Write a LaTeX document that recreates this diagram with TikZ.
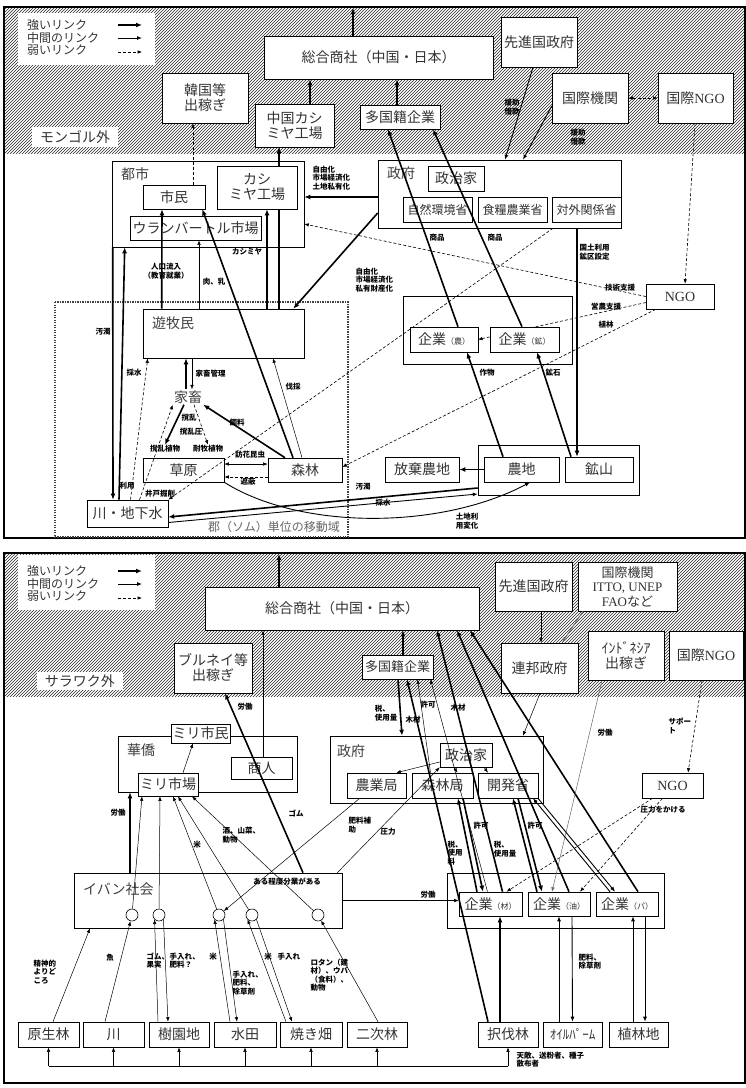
\documentclass[tikz,border=0pt]{standalone}
\usepackage{fontspec}
\setmainfont{Noto Sans CJK JP}
\newfontfamily\lat{Liberation Serif}
\usetikzlibrary{arrows.meta,patterns}

\newcommand{\kakko}[1]{{\fontsize{8}{8}\selectfont #1}}

\tikzset{
  box/.style 2 args={draw, line width=0.6pt, fill=white, inner sep=0pt,
    minimum width=#1pt, minimum height=#2pt, align=center, text=black!80,
    font=\fontsize{14}{15}\selectfont},
  outer/.style 2 args={draw, line width=0.6pt, fill=white, inner sep=0pt,
    minimum width=#1pt, minimum height=#2pt},
  head/.style={anchor=west, inner sep=0pt, text=black!75, font=\fontsize{14}{15}\selectfont},
  lbl/.style={inner sep=0.5pt, align=center, font=\fontsize{7.5}{8.5}\selectfont\bfseries},
  legtext/.style={anchor=west, inner sep=0pt, font=\fontsize{12}{12}\selectfont, text=black!80},
  circ/.style={draw, line width=0.6pt, fill=white, circle, minimum size=12pt, inner sep=0pt},
  stronglink/.style={line width=1.6pt, -{Latex[length=6pt,width=5pt]}},
  midlink/.style={line width=0.9pt, -{Latex[length=5pt,width=4pt]}},
  thinlink/.style={line width=0.5pt, -{Latex[length=4.5pt,width=3.5pt]}},
  weaklink/.style={line width=0.6pt, dash pattern=on 3pt off 2pt, -{Latex[length=4.5pt,width=3.5pt]}},
  hatch/.style={pattern=north east lines, pattern color=black!85},
  somu/.style={line width=1.2pt, dash pattern=on 1.2pt off 1.3pt, black!75},
}

\begin{document}
\begin{tikzpicture}[x=1pt,y=-1pt]
\useasboundingbox (0,0) rectangle (746,1088);

% outside areas and frames
\fill[hatch] (4,7) rectangle (745,153);
\fill[hatch] (4,553) rectangle (745,696);
\draw[line width=1.2pt] (4,7) rectangle (745,538);
\draw[line width=1.2pt] (4,553) rectangle (745,1083);

% legends
\node[fill=white, minimum width=137pt, minimum height=52pt, inner sep=0pt] (leg1) at (86.5,39) {};
\node[fill=white, minimum width=137pt, minimum height=55pt, inner sep=0pt] (leg2) at (86.5,582.5) {};
\foreach \g/\b in {a/25, b/571}{
  \node[legtext] (\g-str) at (27,\b) {強いリンク};
  \node[legtext] (\g-mid) at (27,\b+12.5) {中間のリンク};
  \node[legtext] (\g-weak) at (27,\b+25) {弱いリンク};
  \coordinate (\g-s1) at (118,\b); \coordinate (\g-s2) at (142,\b);
  \coordinate (\g-m1) at (118,\b+13); \coordinate (\g-m2) at (142,\b+13);
  \coordinate (\g-w1) at (118,\b+27); \coordinate (\g-w2) at (142,\b+27);
  \draw[stronglink] (\g-s1) -- (\g-s2);
  \draw[midlink] (\g-m1) -- (\g-m2);
  \draw[weaklink] (\g-w1) -- (\g-w2);
}
\node[fill=white, inner sep=0pt, minimum width=86pt, minimum height=20pt,
  font=\fontsize{14}{15}\selectfont, text=black!80] (mongol) at (75,137) {モンゴル外};
\node[fill=white, inner sep=0pt, minimum width=86pt, minimum height=18pt,
  font=\fontsize{14}{15}\selectfont, text=black!80] (sarawak) at (80,681) {サラワク外};

% outer boxes
\node[outer={243}{68}] (seifu1) at (499.5,194) {};
\node[outer={192}{86}] (toshi) at (208,204) {};
\node[outer={169}{68}] (kigyo1) at (487.5,330) {};
\node[outer={161}{50}] (nochibox) at (558.5,470) {};
\node[outer={161}{49}] (yuboku) at (223.5,333.5) {};
\draw[somu] (55,302) rectangle (348,537);
\node[outer={213}{67}] (seifu2) at (436.5,769.5) {};
\node[outer={179}{56}] (kakyo) at (207.5,764) {};
\node[outer={268}{55}] (iban) at (208,900.5) {};
\node[outer={217}{55}] (kigyo2) at (555.5,900.5) {};

\node[head] (h-seifu1) at (387,173) {政府};
\node[head] (h-toshi) at (121,174) {都市};
\node[head] (h-yuboku) at (152,323) {遊牧民};
\node[head] (h-kakyo) at (127,750) {華僑};
\node[head] (h-seifu2) at (337,751) {政府};
\node[head] (h-iban) at (83,889) {イバン社会};
\node[inner sep=1pt, text=black!60, font=\fontsize{12}{12}\selectfont] (h-somu) at (274,527) {郡（ソム）単位の移動域};

% links that run under boxes
\coordinate (ngo1in) at (646,302.5);
\coordinate (kno-e) at (478,339.5);
\coordinate (yub-n) at (279,309);
\coordinate (chu-s) at (279,147);
\draw[weaklink] (ngo1in) -- (kno-e);
\draw[stronglink] (yub-n) -- (chu-s);

% top boxes
\node[box={229}{43}] (sogo1) at (378.5,57.5) {総合商社（中国・日本）};
\node[box={86}{50}] (kankoku) at (205,98) {韓国等\\出稼ぎ};
\node[box={79}{43}] (chugoku) at (294.5,125.5) {中国カシ\\ミヤ工場};
\node[box={80}{24}] (takoku1) at (400,117) {多国籍企業};
\node[box={76}{50}] (senshin1) at (539,42) {先進国政府};
\node[box={76}{50}] (kokusai1) at (590,98) {国際機関};
\node[box={75}{50}] (ingo1) at (695.5,98) {国際{\lat NGO}};
\node[box={56}{25}] (seijika1) at (456,178.5) {政治家};
\node[box={69}{25}, font=\fontsize{12}{13}\selectfont] (shizen) at (437.5,209.5) {自然環境省};
\node[box={69}{25}, font=\fontsize{12}{13}\selectfont] (shokuryo) at (512.5,209.5) {食糧農業省};
\node[box={69}{25}, font=\fontsize{12}{13}\selectfont] (taigai) at (586.5,209.5) {対外関係省};
\node[box={62}{24}] (shimin) at (174,197) {市民};
\node[box={80}{43}] (kashimiya) at (257,187.5) {カシ\\ミヤ工場};
\node[box={131}{24}] (ub) at (195.5,228) {ウランバートル市場};
\node[inner sep=1pt, text=black!75, font=\fontsize{14}{15}\selectfont] (kachiku) at (188,397) {家畜};
\node[lbl] (kakuran) at (165,449) {撹乱植物};
\node[lbl] (taiboku) at (208,449) {耐牧植物};
\node[box={81}{24}] (sogen) at (183.5,470) {草原};
\node[box={74}{24}] (shinrin) at (305,470) {森林};
\node[box={81}{27}] (kawa1) at (127.5,513.5) {川・地下水};
\node[box={74}{25}] (hoki) at (422,469.5) {放棄農地};
\node[box={75}{25}] (nochi) at (521.5,469.5) {農地};
\node[box={68}{25}] (kozan) at (599,469.5) {鉱山};
\node[box={68}{25}] (kno) at (444,339.5) {企業\kakko{（農）}};
\node[box={69}{25}] (kko) at (524.5,339.5) {企業\kakko{（鉱）}};
\node[box={68}{25}] (ngo1) at (680,296.5) {\lat NGO};

% top links
\coordinate (out1) at (353,8);
\draw[stronglink] ([xshift=-25.5pt]sogo1.north) -- (out1);
\draw[stronglink] ([xshift=15.5pt]chugoku.north) -- ([xshift=-68.5pt]sogo1.south);
\draw[stronglink] ([xshift=-3pt]takoku1.north) -- ([xshift=18.5pt]sogo1.south);
\draw[midlink] ([xshift=-6pt]senshin1.south) -- ([xshift=5.5pt]seifu1.north);
\draw[midlink] ([yshift=-8pt]kokusai1.west) -- ([xshift=23.5pt]seifu1.north);
\draw[weaklink, {Latex[length=4.5pt,width=3.5pt]}-{Latex[length=4.5pt,width=3.5pt]}] (kokusai1.east) -- (ingo1.west);
\draw[weaklink] ([xshift=-0.5pt]ingo1.south) -- ([xshift=5pt]ngo1.north);
\draw[stronglink] ([yshift=-3pt]seifu1.west) -- ([yshift=7pt]toshi.east);
\draw[weaklink] (ngo1.west) -- ([yshift=-20pt]toshi.east);
\draw[stronglink] ([xshift=1pt]toshi.south west) -- ([xshift=-14.5pt]kawa1.north);
\draw[stronglink] ([xshift=-8.5pt]kawa1.north) -- ([xshift=13pt]toshi.south west);
\draw[stronglink] ([xshift=19pt]yuboku.north west) -- ([xshift=-12pt]shimin.south);
\draw[thinlink] ([xshift=-24.5pt]yuboku.north) -- ([xshift=3.5pt]ub.south);
\draw[stronglink] ([xshift=43.5pt]yuboku.north) -- ([xshift=10pt]kashimiya.south);
\draw[stronglink] ([xshift=-12pt]shinrin.north) -- ([xshift=-3pt]shimin.south east);
\draw[thinlink] ([xshift=-3pt]shinrin.north) -- ([xshift=49.5pt]yuboku.south);
\draw[stronglink] ([xshift=-20pt]shinrin.north) -- (kachiku.south east);
\draw[stronglink] ([xshift=-2pt]kachiku.north) -- ([xshift=-37.5pt]yuboku.south);
\draw[thinlink] ([xshift=-31.5pt]yuboku.south) -- ([xshift=4pt]kachiku.north);
\draw[stronglink] ([xshift=-4pt]kachiku.south) -- (kakuran.north);
\draw[weaklink] ([xshift=6pt]kachiku.south) -- (taiboku.north);
\draw[weaklink] ([xshift=12pt]kawa1.north) -- (kachiku.south west);
\draw[weaklink] ([xshift=3pt]kawa1.north) -- ([xshift=5pt]yuboku.south west);
\draw[thinlink, {Latex[length=4.5pt,width=3.5pt]}-{Latex[length=4.5pt,width=3.5pt]}] ([yshift=6pt]sogen.east) -- ([yshift=6pt]shinrin.west);
\draw[weaklink] ([yshift=-7pt]shinrin.west) -- ([yshift=-7pt]sogen.east);
\draw[midlink] (sogen.south east) .. controls (300,530) and (440,530) .. ([xshift=8.5pt]nochi.south);
\draw[stronglink] ([yshift=-18pt]nochibox.west) -- ([yshift=-3.5pt]kawa1.east);
\draw[midlink] ([yshift=-9pt]kawa1.east) -- ([yshift=-24pt]nochibox.west);
\draw[stronglink] (nochi.west) -- (hoki.east);
\draw[stronglink] ([xshift=-18.5pt]nochi.north) -- ([xshift=23pt]kno.south);
\draw[stronglink] ([xshift=14pt]kno.north) -- ([xshift=-12pt]takoku1.south);
\draw[stronglink] ([xshift=-28pt]kozan.north) -- ([xshift=12.5pt]kko.south);
\draw[stronglink] ([xshift=-2.5pt]kko.north) -- ([xshift=33pt]takoku1.south);
\draw[stronglink] ([xshift=77.5pt]seifu1.south) -- ([xshift=-22pt]kozan.north);
\draw[stronglink] ([yshift=-19pt]seifu1.west) -- ([xshift=-11pt]yuboku.north east);
\draw[weaklink] ([xshift=53.5pt]seifu1.south) -- (kawa1.north east);
\draw[weaklink] ([xshift=10pt]ngo1.south west) -- ([yshift=3pt]shinrin.east);
\draw[weaklink] ([xshift=19pt]shimin.north) -- ([xshift=-12pt]kankoku.south);

% top labels
\node[lbl] (l-enjo1) at (512,107) {援助\\借款};
\node[lbl] (l-enjo2) at (578,137) {援助\\借款};
\node[lbl, anchor=west, align=left] (l-jiyu1) at (312,178) {自由化\\市場経済化\\土地私有化};
\node[lbl, anchor=west, align=left] (l-jiyu2) at (355,280) {自由化\\市場経済化\\私有財産化};
\node[lbl] (l-gijutsu) at (620,288) {技術支援};
\node[lbl] (l-einou) at (606,307) {営農支援};
\node[lbl] (l-shokurin) at (606,325) {植林};
\node[lbl] (l-odaku1) at (103,332) {汚濁};
\node[lbl] (l-saisui1) at (134,373) {採水};
\node[lbl] (l-jinko) at (166,271) {人口流入\\（教育就業）};
\node[lbl] (l-niku) at (214,282) {肉、乳};
\node[lbl] (l-kashimiya) at (247,252) {カシミヤ};
\node[lbl] (l-bassai) at (293,387) {伐採};
\node[lbl] (l-shiryo) at (237,423) {飼料};
\node[lbl, anchor=west] (l-kanri) at (195,374) {家畜管理};
\node[lbl] (l-kakuran) at (189,418) {撹乱};
\node[lbl] (l-kakuranatsu) at (191,432) {撹乱圧};
\node[lbl] (l-houka) at (250,455) {訪花昆虫};
\node[lbl] (l-shahei) at (248,482) {遮蔽};
\node[lbl] (l-riyo) at (127,486) {利用};
\node[lbl] (l-ido) at (160,494) {井戸掘削};
\node[lbl] (l-odaku2) at (363,487) {汚濁};
\node[lbl] (l-saisui2) at (383,503) {採水};
\node[lbl] (l-tochi) at (467,521) {土地利\\用変化};
\node[lbl] (l-sakumotsu) at (487,373) {作物};
\node[lbl] (l-koseki) at (553,373) {鉱石};
\node[lbl] (l-shohin1) at (437,238) {商品};
\node[lbl] (l-shohin2) at (495,238) {商品};
\node[lbl, anchor=west, align=left] (l-kokudo) at (579,252) {国土利用\\鉱区設定};

% bottom boxes
\node[box={274}{43}] (sogo2) at (342,608.5) {総合商社（中国・日本）};
\node[box={78}{50}] (brunei) at (213,668) {ブルネイ等\\出稼ぎ};
\node[box={71}{24}, font=\fontsize{13}{14}\selectfont] (takoku2) at (397.5,667) {多国籍企業};
\node[box={77}{49}] (senshin2) at (533.5,586.5) {先進国政府};
\node[box={99}{49}, font=\fontsize{13}{14.5}\selectfont] (kokusai2) at (627.5,586.5) {国際機関\\{\lat ITTO, UNEP}\\{\lat FAO}など};
\node[box={77}{50}] (renpo) at (539.5,668) {連邦政府};
\node[box={76}{49}] (indo) at (626,655.5) {ｲﾝﾄﾞﾈｼｱ\\出稼ぎ};
\node[box={74}{49}] (ingo2) at (706,655.5) {国際{\lat NGO}};
\node[box={52}{24}] (seijika2) at (466,755) {政治家};
\node[box={59}{25}] (nogyo) at (376.5,785.5) {農業局};
\node[box={61}{25}] (shinrinkyoku) at (442.5,785.5) {森林局};
\node[box={60}{25}] (kaihatsu) at (508,785.5) {開発省};
\node[box={61}{25}] (ngo2) at (672.5,785.5) {\lat NGO};
\node[box={59}{19}] (mirishimin) at (200.5,733.5) {ミリ市民};
\node[box={61}{22}] (shonin) at (261.5,768) {商人};
\node[box={60}{23}] (mirishijo) at (168,784.5) {ミリ市場};
\node[circ] (c1) at (132,915) {};
\node[circ] (c2) at (159,915) {};
\node[circ] (c3) at (219,915) {};
\node[circ] (c4) at (252,915) {};
\node[circ] (c5) at (318,915) {};
\node[box={63}{24}] (kzai) at (490.5,904) {企業\kakko{（材）}};
\node[box={62}{24}] (kyu) at (559,904) {企業\kakko{（油）}};
\node[box={62}{24}] (kpa) at (627,904) {企業\kakko{（パ）}};
\node[box={61}{25}] (genseirin) at (48.5,1034.5) {原生林};
\node[box={61}{25}] (kawa2) at (113.5,1034.5) {川};
\node[box={60}{25}] (juen) at (179,1034.5) {樹園地};
\node[box={62}{25}] (suiden) at (245,1034.5) {水田};
\node[box={62}{25}] (yakihata) at (311,1034.5) {焼き畑};
\node[box={60}{25}] (niji) at (377,1034.5) {二次林};
\node[box={60}{25}] (takubatsu) at (508,1034.5) {択伐林};
\node[box={59}{25}, font=\fontsize{13}{14}\selectfont] (oil) at (572.5,1034.5) {ｵｲﾙﾊﾟｰﾑ};
\node[box={59}{25}] (shokurin) at (638.5,1034.5) {植林地};

% bottom links
\coordinate (out2) at (279,554);
\draw[stronglink] ([xshift=-63pt]sogo2.north) -- (out2);
\draw[stronglink] ([xshift=5.5pt]takoku2.north) -- ([xshift=61pt]sogo2.south);
\draw[thinlink] ([xshift=7.5pt]senshin2.south) -- ([xshift=1.5pt]renpo.north);
\draw[midlink, black!55] ([xshift=-44.5pt]kokusai2.south) -- ([xshift=22.5pt]renpo.north);
\draw[thinlink] ([xshift=0.5pt]renpo.south) -- ([xshift=86.5pt]seifu2.north);
\draw[weaklink] ([xshift=-4pt]ingo2.south) -- ([xshift=15.5pt]ngo2.north);
\draw[thinlink] ([xshift=15pt]mirishijo.north) -- ([xshift=-7.5pt]mirishimin.south);
\draw[thinlink] ([xshift=1.5pt]shonin.north) -- ([xshift=-79pt]sogo2.south);
\draw[stronglink] ([xshift=95pt]iban.north) -- ([xshift=12pt]brunei.south);
\draw[stronglink] ([xshift=-78pt]iban.north) -- ([xshift=-77.5pt]kakyo.south);
\draw[thinlink] (c1) -- ([xshift=-26pt]mirishijo.south);
\draw[thinlink] (c2) -- ([xshift=-8pt]mirishijo.south);
\draw[thinlink] (c3) -- ([xshift=5pt]mirishijo.south);
\draw[thinlink] (c4) -- ([xshift=10pt]mirishijo.south);
\draw[thinlink] (c5) -- ([xshift=24pt]mirishijo.south);
\draw[thinlink] ([xshift=13pt]nogyo.south west) -- (c3);
\draw[thinlink] ([xshift=-5pt]iban.north east) -- (seijika2.south west);
\draw[thinlink] ([yshift=-7pt]seijika2.west) -- ([xshift=-10pt]nogyo.north east);
\draw[thinlink] ([xshift=-12pt]seijika2.south) -- ([xshift=15pt]shinrinkyoku.north);
\draw[weaklink] ([xshift=18pt]seijika2.south) -- ([xshift=-20pt]kaihatsu.north);
\draw[thinlink] (iban.east) -- (iban.east -| kzai.west);
\draw[stronglink] ([xshift=-8pt]takubatsu.north) -- ([xshift=9.5pt]kzai.south);
\draw[stronglink] ([xshift=-20pt]takubatsu.north) -- ([xshift=9.5pt]takoku2.south);
\draw[stronglink] ([xshift=0.5pt]takoku2.south) -- ([xshift=-34.5pt]seifu2.north);
\draw[thinlink] ([xshift=-12pt]shinrinkyoku.north) -- ([xshift=20pt]takoku2.south);
\draw[thinlink] ([xshift=-3pt]kzai.north) -- ([xshift=33pt]takoku2.south);
\draw[stronglink] ([xshift=12pt]kzai.north) -- ([xshift=95pt]sogo2.south);
\draw[stronglink] ([xshift=10pt]kyu.north) -- ([xshift=115pt]sogo2.south);
\draw[stronglink] ([xshift=11pt]kpa.north) -- ([xshift=128pt]sogo2.south);
\draw[stronglink] ([xshift=20.5pt]shinrinkyoku.south) -- ([xshift=-7.5pt]kzai.north);
\draw[stronglink] ([xshift=-13.5pt]kzai.north) -- ([xshift=15.5pt]shinrinkyoku.south);
\draw[stronglink] ([xshift=-22pt]kyu.north) -- ([xshift=5pt]kaihatsu.south);
\draw[stronglink] ([xshift=10pt]kaihatsu.south) -- ([xshift=-17pt]kyu.north);
\draw[thinlink, black!60] ([xshift=-24pt]indo.south) -- ([xshift=-7pt]kyu.north);
\draw[midlink] ([xshift=-17pt]kpa.north) -- ([xshift=25pt]kaihatsu.south);
\draw[midlink] ([xshift=30pt]kaihatsu.south) -- ([xshift=-12pt]kpa.north);
\draw[weaklink] ([xshift=-20pt]ngo2.south) -- ([xshift=16pt]kzai.north);
\draw[weaklink] ([xshift=-10pt]ngo2.south) -- ([xshift=21pt]kyu.north);
\draw[thinlink] ([xshift=4.5pt]genseirin.north) -- ([xshift=-118pt]iban.south);
\draw[thinlink] ([xshift=-8.5pt]kawa2.north) -- (c1);
\draw[thinlink] ([xshift=-21pt]juen.north) -- (c2.south west);
\draw[thinlink] (c2.south east) -- ([xshift=-11pt]juen.north);
\draw[thinlink] ([xshift=-15pt]suiden.north) -- (c3.south west);
\draw[thinlink] (c3.south east) -- ([xshift=-8pt]suiden.north);
\draw[thinlink] ([xshift=-25pt]yakihata.north) -- (c4.south west);
\draw[thinlink] (c4.south east) -- ([xshift=-19pt]yakihata.north);
\draw[thinlink] ([xshift=1pt]niji.north) -- (c5);
\draw[midlink] ([xshift=-13.5pt]oil.north) -- (kyu.south);
\draw[midlink] ([xshift=13pt]kyu.south) -- (oil.north);
\draw[midlink] ([xshift=-5.5pt]shokurin.north) -- ([xshift=6pt]kpa.south);
\draw[midlink] ([xshift=18pt]kpa.south) -- ([xshift=6.5pt]shokurin.north);
\coordinate (bus) at (0,1066);
\draw[line width=0.5pt] (genseirin.south |- bus) -- (takubatsu.south |- bus);
\foreach \n in {genseirin,kawa2,juen,suiden,yakihata,niji,takubatsu}
  \draw[thinlink] (\n.south |- bus) -- (\n.south);

% bottom labels
\node[lbl] (l-rodo1) at (245,707) {労働};
\node[lbl] (l-gomu) at (296,813) {ゴム};
\node[lbl] (l-rodo2) at (118,813) {労働};
\node[lbl] (l-kome1) at (197,845) {米};
\node[lbl, anchor=west, align=left] (l-sake) at (222,835) {酒、山菜、\\動物};
\node[lbl, anchor=west, align=left] (l-hiryo) at (348,825) {肥料補\\助};
\node[lbl] (l-atsu) at (388,832) {圧力};
\node[lbl, anchor=west, align=left] (l-support) at (668,726) {サポー\\ト};
\node[lbl, align=left] (l-zei1) at (386,713) {税、\\使用量};
\node[lbl] (l-mokuzai1) at (413,720) {木材};
\node[lbl] (l-kyoka1) at (428,705) {許可};
\node[lbl] (l-mokuzai2) at (458,708) {木材};
\node[lbl, align=left] (l-zei2) at (455,853) {税、\\使用\\料};
\node[lbl] (l-kyoka2) at (481,826) {許可};
\node[lbl, align=left] (l-zei3) at (505,849) {税、\\使用量};
\node[lbl] (l-kyoka3) at (535,826) {許可};
\node[lbl] (l-rodo3) at (605,733) {労働};
\node[lbl] (l-atsu2) at (663,810) {圧力をかける};
\node[lbl] (l-rodo4) at (428,895) {労働};
\node[lbl] (l-bungyo) at (287,882) {ある程度分業がある};
\node[lbl, align=left] (l-seishin) at (45,972) {精神的\\よりど\\ころ};
\node[lbl] (l-sakana) at (110,958) {魚};
\node[lbl, anchor=north west, align=left] (l-gomu2) at (146,952) {ゴム、\\果実};
\node[lbl, anchor=north west, align=left] (l-teire1) at (169,952) {手入れ、\\肥料？};
\node[lbl] (l-kome2) at (213,957) {米};
\node[lbl, anchor=north west, align=left] (l-teire2) at (232,970) {手入れ、\\肥料、\\除草剤};
\node[lbl] (l-kome3) at (268,957) {米};
\node[lbl, anchor=west] (l-teire3) at (277,957) {手入れ};
\node[lbl, anchor=north west, align=left] (l-rotan) at (310,958) {ロタン（建\\材）、ウバ\\（食料）、\\動物};
\node[lbl, anchor=north west, align=left] (l-hiryo2) at (578,953) {肥料、\\除草剤};
\node[lbl, anchor=north west, align=left] (l-tenteki) at (516,1051) {天敵、送粉者、種子\\散布者};
\end{tikzpicture}
\end{document}
